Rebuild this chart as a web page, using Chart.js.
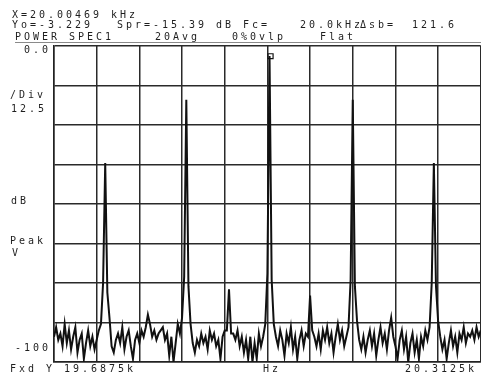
<!DOCTYPE html>
<html>
<head>
<meta charset="utf-8">
<script src="https://cdn.jsdelivr.net/npm/chart.js@4.4.1/dist/chart.umd.min.js"></script>
<style>
  html, body { margin: 0; padding: 0; background: #fff; overflow: hidden; }
  #wrap { width: 481px; height: 373px; overflow: hidden; position: relative; }
  canvas { display: block; }
</style>
</head>
<body>
<div id="wrap"><canvas id="myChart" width="486" height="373"></canvas></div>
<script>
// span 19.6875k .. 20.3125k, 201 bins
const freqStart = 19687.5;
const freqStop = 20312.5;
const binWidth = 3.125;
const freqStep = 62.5;   // 10 div
const dbStep = 12.5;     // 8 div

// power spectrum in dB
const niveles = [
  -92,-89,-93,-91,-95,-88,-94,-90,-96,-92,-89,-97,-93,-91,-99,-94,-90,-95,-92,-96,
  -93,-90,-88,-75,-37,-78,-86,-95,-97,-93,-91,-94,-89,-96,-92,-90,-95,-99,-93,-91,
  -94,-90,-92,-89,-85,-88,-92,-90,-93,-91,-90,-89,-93,-91,-98,-92,-100,-94,-88,-91,
  -86,-73,-17,-76,-88,-94,-97,-93,-95,-91,-94,-92,-96,-90,-93,-91,-95,-93,-99,-92,
  -90,-90,-77,-91,-91,-93,-90,-95,-92,-97,-93,-99,-92,-100,-94,-99,-91,-95,-92,-88,
  -72,-3.2,-74,-88,-92,-95,-90,-93,-98,-91,-94,-89,-96,-92,-99,-93,-90,-95,-91,-92,
  -79,-90,-92,-95,-91,-96,-90,-93,-89,-94,-91,-97,-92,-88,-93,-90,-95,-92,-89,-74,
  -17,-76,-87,-93,-96,-92,-97,-93,-90,-95,-91,-98,-93,-89,-94,-91,-96,-90,-86,-92,
  -95,-99,-93,-90,-96,-92,-100,-94,-91,-97,-93,-99,-92,-95,-90,-93,-89,-75,-37,-76,
  -87,-92,-96,-93,-99,-94,-90,-95,-92,-97,-91,-93,-89,-94,-91,-92,-90,-93,-89,-92,
  -90
];

// marker readout
const markerX = [20004.69];
const markerY = [-3.229];

const encabezado = [
  ["X=20.00469 kHz", 12, 18],
  ["Yo=-3.229", 12, 28],
  ["Spr=-15.39 dB Fc=", 117, 28],
  ["20.0kHz", 300, 28],
  ["\u0394sb=", 360, 28],
  ["121.6", 412, 28],
  ["POWER SPEC1", 15, 40],
  ["20Avg", 155, 40],
  ["0%0vlp", 232, 40],
  ["Flat", 320, 40],
  ["0.0", 24, 53],
  ["/Div", 10, 98],
  ["12.5", 11, 112],
  ["dB", 11, 204],
  ["Peak", 10, 244],
  ["V", 12, 256],
  ["-100", 15, 351],
  ["Fxd Y 19.6875k", 10, 372],
  ["Hz", 263, 372],
  ["20.3125k", 405, 372]
];

let puntos = [];
for (let i = 0; i < niveles.length; i++) {
  puntos.push({x: freqStart + i * binWidth, y: niveles[i]});
}
let marcador = [];
for (let i = 0; i < markerX.length; i++) {
  marcador.push({x: markerX[i], y: markerY[i]});
}

function textoMono(ctx, texto, x, y, paso) {
  for (let i = 0; i < texto.length; i++) {
    ctx.fillText(texto[i], x + i * paso, y);
  }
}

const textoPlugin = {
  id: 'textoPlugin',
  afterDraw(chart) {
    const ctx = chart.ctx;
    ctx.save();
    ctx.fillStyle = '#1e1e1e';
    ctx.font = '10px "DejaVu Sans Mono"';
    ctx.textBaseline = 'alphabetic';
    ctx.textAlign = 'left';
    encabezado.forEach(function(t) {
      textoMono(ctx, t[0], t[1], t[2], 9);
    });
    // rule under the status line
    ctx.strokeStyle = 'rgba(60,60,60,0.6)';
    ctx.lineWidth = 1;
    ctx.beginPath();
    ctx.moveTo(15, 42.5);
    ctx.lineTo(481, 42.5);
    ctx.stroke();
    ctx.restore();
  }
};

let ctx = document.getElementById('myChart');
let myChart = new Chart(ctx, {
  type: 'line',
  data: {
    datasets: [{
      label: 'POWER SPEC1',
      data: puntos,
      borderColor: '#111',
      borderWidth: 2,
      pointRadius: 0,
      tension: 0
    }, {
      label: 'marker',
      data: marcador,
      showLine: false,
      pointStyle: 'rect',
      pointRadius: 3.5,
      borderColor: '#111',
      borderWidth: 1.2,
      backgroundColor: '#fff'
    }]
  },
  plugins: [textoPlugin],
  options: {
    responsive: false,
    animation: false,
    devicePixelRatio: 1,
    layout: { padding: { left: 54, right: 2, top: 46, bottom: 11 } },
    plugins: { legend: { display: false }, tooltip: { enabled: false } },
    scales: {
      x: {
        type: 'linear',
        min: freqStart,
        max: freqStop,
        ticks: { display: false, stepSize: freqStep },
        grid: { color: '#2a2a2a', lineWidth: 1.5, drawTicks: false },
        border: { display: true, color: '#222', width: 1.5 }
      },
      y: {
        min: -100,
        max: 0,
        ticks: { display: false, stepSize: dbStep },
        grid: { color: '#2a2a2a', lineWidth: 1.5, drawTicks: false },
        border: { display: true, color: '#222', width: 1.5 }
      }
    }
  }
});
</script>
</body>
</html>
